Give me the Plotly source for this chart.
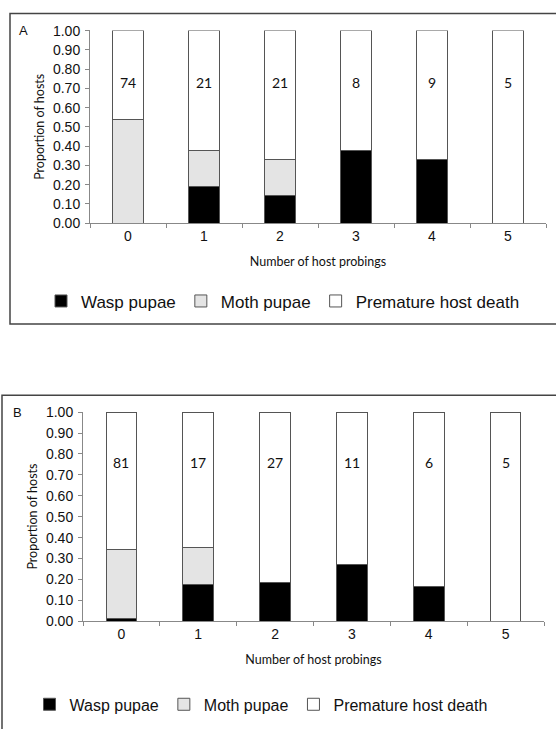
import plotly.graph_objects as go

categories = ["0", "1", "2", "3", "4", "5"]

# Panel A proportions
a_wasp = [0.0, 0.19, 0.143, 0.375, 0.333, 0.0]
a_moth = [0.54, 0.19, 0.19, 0.0, 0.0, 0.0]
a_death = [0.46, 0.62, 0.667, 0.625, 0.667, 1.0]
a_counts = ["74", "21", "21", "8", "9", "5"]

# Panel B proportions
b_wasp = [0.012, 0.176, 0.185, 0.273, 0.167, 0.0]
b_moth = [0.333, 0.176, 0.0, 0.0, 0.0, 0.0]
b_death = [0.655, 0.648, 0.815, 0.727, 0.833, 1.0]
b_counts = ["81", "17", "27", "11", "6", "5"]

series_names = ["Wasp pupae", "Moth pupae", "Premature host death"]
fills = ["#000000", "#e4e4e4", "#ffffff"]
OUTLINE = "#555555"
AX = "#888888"

W, H = 556, 729
def px_x(x): return x / W
def px_y(y): return (H - y) / H

fig = go.Figure()

panels = [
    dict(xa="x", ya="y", leg="legend", vals=[a_wasp, a_moth, a_death], counts=a_counts, cy=0.73),
    dict(xa="x2", ya="y2", leg="legend2", vals=[b_wasp, b_moth, b_death], counts=b_counts, cy=0.76),
]
for p in panels:
    for name, vals, col in zip(series_names, p["vals"], fills):
        fig.add_trace(go.Bar(
            x=categories, y=vals, name=name, xaxis=p["xa"], yaxis=p["ya"],
            legend=p["leg"], marker=dict(color=col, line=dict(color=OUTLINE, width=1)),
            cliponaxis=False, hoverinfo="skip",
        ))
    for c, t in zip(categories, p["counts"]):
        fig.add_annotation(x=c, y=p["cy"], xref=p["xa"], yref=p["ya"], text=t,
                           xanchor="center", yanchor="middle",
                           showarrow=False, font=dict(family="Lato", size=14, color="#111111"))

def xaxis(domain, anchor):
    return dict(domain=domain, anchor=anchor, type="category", showline=True, linecolor=AX,
                linewidth=1, ticks="outside", tickson="boundaries", ticklen=4, tickcolor=AX,
                tickfont=dict(family="Liberation Sans", size=14, color="#111111"),
                showgrid=False, zeroline=False,
                title=dict(text="Number of host probings", standoff=14,
                           font=dict(family="Lato", size=12.5, color="#111111")))

def yaxis(domain, anchor):
    return dict(domain=domain, anchor=anchor, range=[0, 1.001], tickvals=[i / 10 for i in range(11)],
                tickformat=".2f",
                showline=True, linecolor=AX, linewidth=1, ticks="outside", ticklen=4,
                tickcolor=AX, showgrid=False, zeroline=False, ticklabelstandoff=2,
                tickfont=dict(family="Liberation Sans", size=14, color="#111111"),
                title=dict(text="Proportion of hosts", standoff=5,
                           font=dict(family="Lato", size=12.5, color="#111111")))

fig.update_layout(
    width=W, height=H, margin=dict(l=0, r=0, t=0, b=0),
    paper_bgcolor="white", plot_bgcolor="white",
    barmode="stack", bargap=0.6, showlegend=True,
    xaxis=xaxis([px_x(90), px_x(546)], "y"),
    yaxis=yaxis([px_y(220), px_y(23)], "x"),
    xaxis2=xaxis([px_x(83), px_x(544)], "y2"),
    yaxis2=yaxis([px_y(627), px_y(413)], "x2"),
    legend=dict(orientation="h", x=px_x(283), xanchor="center", y=px_y(300), yanchor="middle",
                traceorder="normal", font=dict(family="Liberation Sans", size=17, color="#111111"),
                bgcolor="rgba(0,0,0,0)"),
    legend2=dict(orientation="h", x=px_x(261), xanchor="center", y=px_y(712), yanchor="middle",
                 traceorder="normal", font=dict(family="Liberation Sans", size=16, color="#111111"),
                 bgcolor="rgba(0,0,0,0)"),
    shapes=[
        dict(type="rect", xref="paper", yref="paper", x0=px_x(10), x1=px_x(570),
             y0=px_y(323), y1=px_y(5.5), line=dict(color="#444444", width=1.5)),
        dict(type="rect", xref="paper", yref="paper", x0=px_x(2), x1=px_x(570),
             y0=px_y(760), y1=px_y(396), line=dict(color="#444444", width=1.5)),
    ],
)
fig.add_annotation(x=px_x(23), y=px_y(23), xref="paper", yref="paper", text="A", showarrow=False,
                   xanchor="center", yanchor="middle",
                   font=dict(family="Liberation Sans", size=13, color="#111111"))
fig.add_annotation(x=px_x(17), y=px_y(414), xref="paper", yref="paper", text="B", showarrow=False,
                   xanchor="center", yanchor="middle",
                   font=dict(family="Liberation Sans", size=13, color="#111111"))

fig.write_html("out.html")
